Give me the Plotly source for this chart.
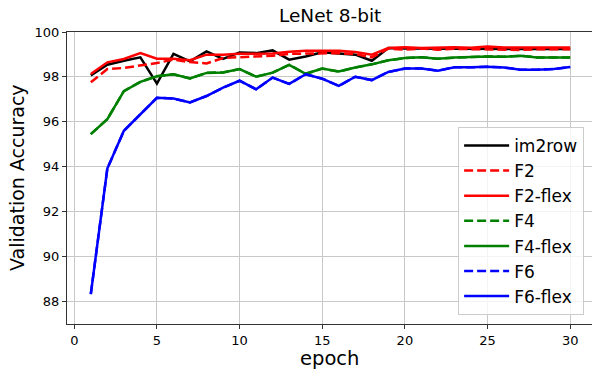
import plotly.graph_objects as go

epochs = list(range(1, 31))
im2row = [98.07, 98.54, 98.72, 98.87, 97.70, 99.03, 98.69, 99.14, 98.80, 99.09,
          99.06, 99.18, 98.77, 98.91, 99.10, 99.06, 98.99, 98.72, 99.29, 99.26,
          99.26, 99.25, 99.26, 99.24, 99.27, 99.24, 99.25, 99.24, 99.25, 99.24]
f2 = [97.76, 98.35, 98.40, 98.50, 98.62, 98.77, 98.66, 98.60, 98.84, 98.88,
      98.91, 98.94, 99.03, 99.03, 99.04, 99.06, 99.02, 98.87, 99.26, 99.21,
      99.26, 99.21, 99.25, 99.23, 99.24, 99.22, 99.20, 99.23, 99.22, 99.23]
f2_flex = [98.13, 98.65, 98.80, 99.06, 98.81, 98.81, 98.74, 98.99, 98.99, 99.03,
           99.03, 99.04, 99.12, 99.17, 99.17, 99.17, 99.11, 98.99, 99.29, 99.32,
           99.29, 99.32, 99.32, 99.30, 99.36, 99.31, 99.32, 99.31, 99.31, 99.31]
f4 = [95.45, 96.12, 97.37, 97.78, 98.03, 98.12, 97.93, 98.18, 98.20, 98.35,
      98.01, 98.19, 98.54, 98.14, 98.37, 98.24, 98.42, 98.56, 98.74, 98.84,
      98.88, 98.81, 98.86, 98.90, 98.91, 98.90, 98.94, 98.87, 98.87, 98.87]
f4_flex = list(f4)
f6 = [88.33, 93.92, 95.60, 96.34, 97.07, 97.04, 96.86, 97.15, 97.52, 97.83,
      97.45, 97.97, 97.69, 98.12, 97.92, 97.60, 98.01, 97.86, 98.22, 98.37,
      98.37, 98.28, 98.43, 98.43, 98.45, 98.42, 98.32, 98.32, 98.35, 98.44]
f6_flex = list(f6)

x_ticks = [0, 5, 10, 15, 20, 25, 30]
y_ticks = [88, 90, 92, 94, 96, 98, 100]

series = [
    ("im2row", im2row, "black", "solid"),
    ("F2", f2, "red", "9px,4px"),
    ("F2-flex", f2_flex, "red", "solid"),
    ("F4", f4, "green", "9px,4px"),
    ("F4-flex", f4_flex, "green", "solid"),
    ("F6", f6, "blue", "9px,4px"),
    ("F6-flex", f6_flex, "blue", "solid"),
]

FONT = "DejaVu Sans"
fig = go.Figure()
for name, ys, color, dash in series:
    fig.add_trace(go.Scatter(x=epochs, y=ys, name=name, mode="lines",
                             line=dict(color=color, width=2.5, dash=dash)))

fig.update_layout(
    width=592, height=371,
    margin=dict(l=67, r=0, t=32, b=47),
    paper_bgcolor="white", plot_bgcolor="white",
    font=dict(family=FONT, color="black", size=13),
    showlegend=True,
    legend=dict(x=0.985, y=0.031, xanchor="right", yanchor="bottom",
                bgcolor="rgba(255,255,255,0.8)", bordercolor="#cccccc", borderwidth=1,
                font=dict(family=FONT, size=17, color="black"),
                itemwidth=45, tracegroupgap=0),
    annotations=[
        dict(text="LeNet 8-bit", xref="paper", yref="paper", x=0.5, y=1,
             xanchor="center", yanchor="bottom", yshift=4, showarrow=False,
             font=dict(family=FONT, size=18.5, color="black")),
        dict(text="Validation Accuracy", xref="paper", yref="paper", x=0, y=0.5,
             xanchor="center", yanchor="middle", xshift=-50, textangle=-90, showarrow=False,
             font=dict(family=FONT, size=19, color="black")),
        dict(text="epoch", xref="paper", yref="paper", x=0.5, y=0,
             xanchor="center", yanchor="middle", yshift=-34, showarrow=False,
             font=dict(family=FONT, size=19.5, color="black")),
    ],
)
fig.update_xaxes(range=[-0.44, 31.32], tickvals=x_ticks, ticks="outside", ticklen=4,
                 tickcolor="#333", showgrid=True, gridcolor="#c8c8c8", gridwidth=1,
                 showline=True, linecolor="#333", linewidth=1.2, mirror=True,
                 zeroline=False, tickfont=dict(family=FONT, size=13))
fig.update_yaxes(range=[87, 100], tickvals=y_ticks, ticks="outside", ticklen=4,
                 tickcolor="#333", showgrid=True, gridcolor="#c8c8c8", gridwidth=1,
                 showline=True, linecolor="#333", linewidth=1.2, mirror=False,
                 zeroline=False, tickfont=dict(family=FONT, size=13))

fig.write_html("out.html", config={"displayModeBar": False},
               post_script="document.body.style.margin='0';")
